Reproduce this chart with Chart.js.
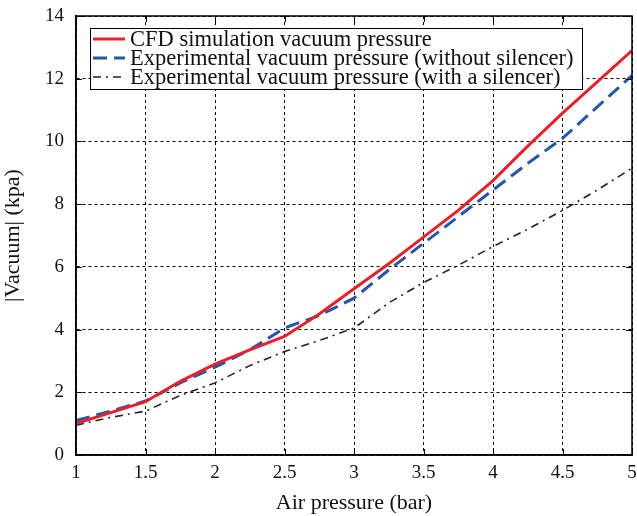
<!DOCTYPE html>
<html>
<head>
<meta charset="utf-8">
<script src="https://cdn.jsdelivr.net/npm/chart.js@4"></script>
<style>
  html, body { margin: 0; padding: 0; background: #fff; }
  #wrap { width: 637px; height: 516px; position: relative; }
</style>
</head>
<body>
<div id="wrap"><canvas id="chart"></canvas></div>
<script>
    const airPressure = [1, 1.25, 1.5, 1.75, 2, 2.25, 2.5, 2.75, 3, 3.25, 3.5, 3.75, 4, 4.25, 4.5, 4.75, 5];
    const cfdVacuum = [1.0, 1.35, 1.7, 2.35, 2.9, 3.35, 3.78, 4.5, 5.3, 6.1, 6.95, 7.8, 8.75, 9.85, 10.9, 11.9, 12.9];
    const expNoSilencer = [1.1, 1.4, 1.72, 2.3, 2.8, 3.35, 4.05, 4.45, 5.0, 5.9, 6.75, 7.6, 8.45, 9.3, 10.1, 11.1, 12.1];
    const expSilencer = [0.95, 1.2, 1.4, 1.9, 2.3, 2.85, 3.3, 3.65, 4.05, 4.85, 5.5, 6.05, 6.65, 7.2, 7.8, 8.45, 9.15];
    const seriesNames = [
        'CFD simulation vacuum pressure',
        'Experimental vacuum pressure (without silencer)',
        'Experimental vacuum pressure (with a silencer)'
    ];

    const fontFamily = '"Liberation Serif", "Times New Roman", serif';

    function toPoints(values) {
        return values.map(function (v, i) { return { x: airPressure[i], y: v }; });
    }

    // closes the axes box, inner tick marks, and the boxed legend inside the plot
    const boxLegend = {
        id: 'boxLegend',
        afterDatasetsDraw: function (chart) {
            const ctx = chart.ctx;
            const a = chart.chartArea;
            ctx.save();
            ctx.strokeStyle = '#000';
            ctx.lineWidth = 1.5;
            ctx.setLineDash([]);
            ctx.strokeRect(a.left, a.top, a.right - a.left, a.bottom - a.top);

            ctx.lineWidth = 1;
            ctx.beginPath();
            chart.scales.x.ticks.forEach(function (t) {
                const px = Math.round(chart.scales.x.getPixelForValue(t.value)) + 0.5;
                ctx.moveTo(px, a.bottom); ctx.lineTo(px, a.bottom - 6);
                ctx.moveTo(px, a.top); ctx.lineTo(px, a.top + 6);
            });
            chart.scales.y.ticks.forEach(function (t) {
                const py = Math.round(chart.scales.y.getPixelForValue(t.value)) + 0.5;
                ctx.moveTo(a.left, py); ctx.lineTo(a.left + 6, py);
                ctx.moveTo(a.right, py); ctx.lineTo(a.right - 6, py);
            });
            ctx.stroke();

            const left = 90, top = 28, right = 582, bottom = 89;
            ctx.fillStyle = '#fff';
            ctx.fillRect(left, top, right - left, bottom - top);
            ctx.lineWidth = 1;
            ctx.strokeRect(left + 0.5, top + 0.5, right - left, bottom - top);
            ctx.font = '22.5px ' + fontFamily;
            ctx.textBaseline = 'middle';
            chart.data.datasets.forEach(function (ds, i) {
                const y = 39 + i * 19;
                ctx.strokeStyle = ds.borderColor;
                ctx.lineWidth = ds.borderWidth;
                ctx.setLineDash(ds.borderDash || []);
                ctx.beginPath();
                ctx.moveTo(93, y);
                ctx.lineTo(125, y);
                ctx.stroke();
                ctx.setLineDash([]);
                ctx.fillStyle = '#111';
                ctx.fillText(ds.label, 130, y + 1);
            });
            ctx.restore();
        }
    };

    new Chart(document.getElementById('chart').getContext('2d'), {
        type: 'line',
        data: {
            datasets: [
                {
                    label: seriesNames[0],
                    data: toPoints(cfdVacuum),
                    borderColor: '#e8202a',
                    borderWidth: 3,
                    pointRadius: 0,
                    tension: 0
                },
                {
                    label: seriesNames[1],
                    data: toPoints(expNoSilencer),
                    borderColor: '#2457a8',
                    borderWidth: 3,
                    borderDash: [14, 7],
                    pointRadius: 0,
                    tension: 0
                },
                {
                    label: seriesNames[2],
                    data: toPoints(expSilencer),
                    borderColor: '#222',
                    borderWidth: 1.6,
                    borderDash: [8, 5, 2, 5],
                    pointRadius: 0,
                    tension: 0
                }
            ]
        },
        options: {
            responsive: true,
            maintainAspectRatio: false,
            animation: false,
            layout: { padding: { left: 0, right: 5, top: 16, bottom: 0 } },
            plugins: {
                legend: { display: false },
                tooltip: { enabled: false }
            },
            scales: {
                x: {
                    type: 'linear',
                    min: 1,
                    max: 5,
                    ticks: {
                        stepSize: 0.5,
                        color: '#111',
                        font: { family: fontFamily, size: 19 },
                        padding: 7,
                        maxRotation: 0,
                        callback: function (v) { return String(v); }
                    },
                    grid: {
                        color: '#000',
                        lineWidth: 1,
                        drawTicks: false
                    },
                    border: { display: true, color: '#000', width: 1.5, dash: [3, 3] },
                    title: {
                        display: true,
                        text: 'Air pressure (bar)',
                        color: '#111',
                        font: { family: fontFamily, size: 22 },
                        padding: { top: 0, bottom: 0 }
                    },
                    afterFit: function (scale) {
                        scale.height = 61;
                        scale.paddingLeft = 0;
                        scale.paddingRight = 0;
                    }
                },
                y: {
                    min: 0,
                    max: 14,
                    ticks: {
                        stepSize: 2,
                        color: '#111',
                        font: { family: fontFamily, size: 19 },
                        padding: 12
                    },
                    grid: {
                        color: '#000',
                        lineWidth: 1,
                        drawTicks: false
                    },
                    border: { display: true, color: '#000', width: 1.5, dash: [3, 3] },
                    title: {
                        display: true,
                        text: '|Vacuum| (kpa)',
                        color: '#111',
                        font: { family: fontFamily, size: 22 },
                        padding: { top: 0, bottom: 4 }
                    },
                    afterFit: function (scale) {
                        scale.width = 76;
                        scale.paddingTop = 0;
                        scale.paddingBottom = 0;
                    }
                }
            }
        },
        plugins: [boxLegend]
    });
</script>
</body>
</html>
